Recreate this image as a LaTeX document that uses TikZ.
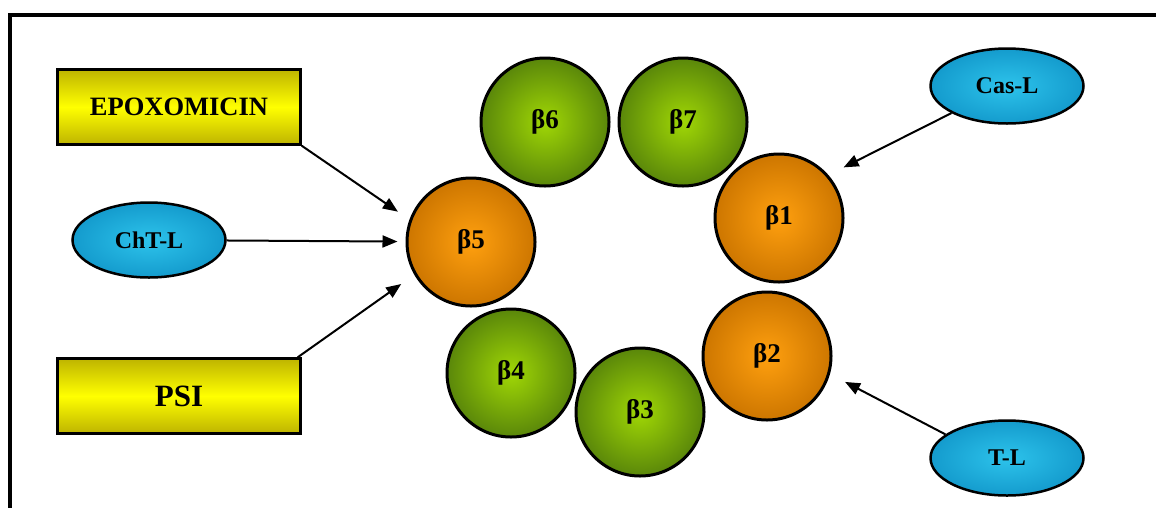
\documentclass[tikz,border=0pt]{standalone}
\usepackage{fontspec}
\setmainfont{Liberation Serif}
\usetikzlibrary{arrows.meta,shapes.geometric}

\definecolor{olivey}{RGB}{190,180,0}
\definecolor{brighty}{RGB}{255,255,0}
\definecolor{cyanin}{RGB}{45,195,235}
\definecolor{cyanout}{RGB}{20,155,205}
\definecolor{greenin}{RGB}{160,215,5}
\definecolor{greenout}{RGB}{90,135,10}
\definecolor{orangein}{RGB}{255,160,15}
\definecolor{orangeout}{RGB}{205,118,0}

\begin{document}
\begin{tikzpicture}[x=1pt,y=-1pt,>={Triangle[length=15pt,width=12pt]},
                    line width=2pt,
                    beta node/.style={circle,draw,line width=3pt,minimum size=128pt,
                      inner sep=0pt,font=\fontsize{27}{27}\selectfont\bfseries},
                    orange node/.style={beta node,inner color=orangein,outer color=orangeout},
                    green node/.style={beta node,inner color=greenin,outer color=greenout},
                    drug node/.style={rectangle,draw,line width=2.5pt,minimum width=243pt,
                      minimum height=75pt,top color=olivey,bottom color=olivey,
                      middle color=brighty},
                    site node/.style={ellipse,draw,line width=2.5pt,minimum width=153pt,
                      minimum height=75pt,inner color=cyanin,outer color=cyanout,
                      font=\fontsize{24}{24}\selectfont\bfseries}]
  \useasboundingbox (0,0) rectangle (1156,507);
  \clip (0,0) rectangle (1156,507);
  \fill[white] (0,0) rectangle (1156,507);
  % outer frame, runs off the right and bottom edges
  \draw[line width=3.5pt] (10,530) -- (10,15) -- (1180,15);

  % the seven beta subunits
  \node[orange node] (b1) at (779,218) {β1};
  \node[orange node] (b2) at (767,356) {β2};
  \node[green node]  (b3) at (640,412) {β3};
  \node[green node]  (b4) at (511,373) {β4};
  \node[orange node] (b5) at (471,242) {β5};
  \node[green node]  (b6) at (545,122) {β6};
  \node[green node]  (b7) at (683,122) {β7};

  % inhibitors
  \node[drug node,font=\fontsize{26.5}{27}\selectfont\bfseries] (epox) at (179,107) {EPOXOMICIN};
  \node[drug node,font=\fontsize{31}{31}\selectfont\bfseries] (psi) at (179,396) {PSI};

  % activities
  \node[site node] (chtl) at (149,240) {ChT-L};
  \node[site node] (casl) at (1007,86) {Cas-L};
  \node[site node] (tl)   at (1007,458) {T-L};

  \draw[->,shorten >=14pt] (epox.south east) -- (b5.160);
  \draw[->,shorten >=8pt]  (chtl) -- (b5);
  \draw[->,shorten >=16pt] ([xshift=-4pt]psi.north east) -- (b5.210);
  \draw[->,shorten >=17pt] (casl.206) -- (b1.41);
  \draw[->,shorten >=17pt] (tl.159) -- (b2.-16);
\end{tikzpicture}
\end{document}
